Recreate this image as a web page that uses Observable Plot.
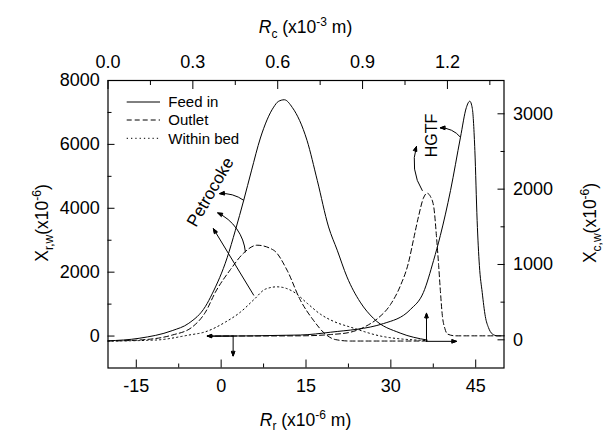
<!DOCTYPE html>
<html><head><meta charset="utf-8">
<script src="https://cdn.jsdelivr.net/npm/d3@7"></script>
<script src="https://cdn.jsdelivr.net/npm/@observablehq/plot@0.6"></script>
<style>
html,body{margin:0;padding:0;background:#fff;}
#chart{position:relative;width:607px;height:433px;font-family:"Liberation Sans",Arial,Helvetica,sans-serif;}
#chart svg{position:absolute;left:0;top:0;}
</style></head><body><div id="chart"></div>
<script>
// ---------- axes ----------
const rrDomain = [-20, 50];            // R_r (x10^-6 m), bottom
const rrTicks = [-15, 0, 15, 30, 45];
const rrMinor = [-7.5, 7.5, 22.5, 37.5];
const xrwDomain = [-1000, 8000];       // X_r,w, left
const xrwTicks = [0, 2000, 4000, 6000, 8000];
const xrwMinor = [1000, 3000, 5000, 7000];
const rcDomain = [0, 1.4];             // R_c (x10^-3 m), top
const rcTicks = [0, 0.3, 0.6, 0.9, 1.2];
const rcMinor = [0.15, 0.45, 0.75, 1.05, 1.35];
const xcwDomain = [-374, 3442];        // X_c,w, right
const xcwTicks = [0, 1000, 2000, 3000];
const xcwMinor = [500, 1500, 2500];

const seriesNames = ["Feed in", "Outlet", "Within bed"];

// ---------- Petrocoke (bottom / left axes) ----------
const petroFeedX = [-20, -14.5, -8.65, -5.72, -2.77, -1.59, 1.06, 2.52, 3.99, 5.35, 6.94, 9.28, 10.11, 11.17, 12.58, 15.18, 16.99, 18.99, 20.52, 22.24, 24.58, 26.93, 31.64, 36.41];
const petroFeedY = [-150, -70, 170, 400, 930, 1320, 2450, 3313, 4250, 5170, 6200, 7166, 7344, 7397, 7156, 6125, 4875, 3416, 2688, 1853, 1063, 553, 94, -125];
const petroOutX = [-20, -14.54, -8.65, -5.12, -2.77, -1.01, 1.64, 3.99, 6.35, 9.28, 11.65, 14.0, 16.29, 18.41, 20.17, 22.82, 36.41];
const petroOutY = [-156, -125, 31, 281, 750, 1375, 2080, 2600, 2844, 2688, 2063, 1125, 500, 63, -109, -156, -156];
const petroBedX = [-20, -11.59, -5.72, -2.77, 0.76, 3.41, 5.88, 7.82, 9.88, 12.81, 15.18, 17.52, 20.17, 22.82, 28.64, 36.41];
const petroBedY = [-156, -125, 31, 134, 438, 750, 1156, 1469, 1541, 1384, 1031, 688, 438, 281, -16, -141];

// ---------- HGTF (top / right axes) ----------
const hgtfFeedX = [0.352, 0.680, 0.787, 0.974, 1.069, 1.115, 1.151, 1.175, 1.211, 1.246, 1.267, 1.279, 1.288, 1.297, 1.305, 1.313, 1.323, 1.334, 1.345, 1.358, 1.377, 1.40];
const hgtfFeedY = [48, 64, 101, 216, 402, 628, 1053, 1385, 1983, 2686, 3084, 3167, 3071, 2513, 1584, 986, 628, 309, 163, 80, 53, 53];
const hgtfOutX = [0.352, 0.680, 0.787, 0.857, 0.910, 0.952, 0.999, 1.034, 1.062, 1.080, 1.098, 1.115, 1.128, 1.140, 1.152, 1.161, 1.169, 1.175, 1.182, 1.191, 1.200, 1.228, 1.40];
const hgtfOutY = [50, 53, 70, 101, 177, 279, 470, 720, 1020, 1330, 1640, 1880, 1946, 1902, 1756, 1385, 986, 654, 323, 150, 77, 53, 53];

// ---------- annotations (data units) ----------
const petroLabel = {x: -1.9, y: 4509, text: "Petrocoke"};
const petroArrows = [
  {x1: 3.99, y1: 4250, x2: -0.25, y2: 4459, bend: -20},
  {x1: 4.29, y1: 2634, x2: -0.60, y2: 3853, bend: -30},
  {x1: 5.75, y1: 1281, x2: -1.36, y2: 3359, bend: 0},
  {x1: 2.12, y1: 0, x2: -2.47, y2: 0, bend: 0},
  {x1: 2.12, y1: 0, x2: 2.12, y2: -625, bend: 0}
];
const hgtfLabel = {x: 1.146, y: 2712, text: "HGTF"};
const hgtfArrows = [
  {x1: 1.246, y1: 2690, x2: 1.175, y2: 2814, bend: -25},
  {x1: 1.111, y1: 1982, x2: 1.0905, y2: 2566, bend: 25},
  {x1: 1.126, y1: -20, x2: 1.126, y2: 353, bend: 0},
  {x1: 1.126, y1: -20, x2: 1.232, y2: -20, bend: 0}
];

const rows = (xs, ys) => xs.map((x, i) => ({x, y: ys[i]}));

const FONT = '"Liberation Sans", Arial, Helvetica, sans-serif';
const W = 607, H = 433;
const common = {
  width: W, height: H,
  marginLeft: 107.5, marginRight: 103.5, marginTop: 80, marginBottom: 65.5,
  style: {fontFamily: FONT, fontSize: "18px", color: "#000", background: "transparent", overflow: "visible"}
};
const dash = {"Feed in": null, "Outlet": "5,3", "Within bed": "1.3,3"};
const lineOpts = (name) => ({x: "x", y: "y", curve: "monotone-x", stroke: "#000", strokeWidth: 1, strokeDasharray: dash[name]});
const arrowMarks = (list) => list.map(a => Plot.arrow([a], {
  x1: "x1", y1: "y1", x2: "x2", y2: "y2", bend: a.bend,
  stroke: "#000", strokeWidth: 1, headLength: 7, headAngle: 40
}));

const p1 = Plot.plot({
  ...common,
  x: {domain: rrDomain}, y: {domain: xrwDomain},
  marks: [
    Plot.axisX({ticks: rrTicks, tickSize: -8, tickPadding: 19.5, tickFormat: d => String(d), label: null}),
    Plot.axisX({ticks: rrMinor, tickSize: -4, tickFormat: () => "", label: null}),
    Plot.axisY({ticks: xrwTicks, tickSize: -7, tickPadding: 15.3, tickFormat: d => String(d), label: null}),
    Plot.axisY({ticks: xrwMinor, tickSize: -4, tickFormat: () => "", label: null}),
    Plot.line(rows(petroFeedX, petroFeedY), lineOpts(seriesNames[0])),
    Plot.line(rows(petroOutX, petroOutY), lineOpts(seriesNames[1])),
    Plot.line(rows(petroBedX, petroBedY), lineOpts(seriesNames[2])),
    ...arrowMarks(petroArrows),
    Plot.text([petroLabel], {x: "x", y: "y", text: "text", rotate: -60, fontSize: 17, fill: "#000"}),
    Plot.frame({stroke: "#000", strokeWidth: 1.2})
  ]
});

const p2 = Plot.plot({
  ...common,
  x: {domain: rcDomain}, y: {domain: xcwDomain},
  marks: [
    Plot.axisX({anchor: "top", ticks: rcTicks, tickSize: -8, tickPadding: 21, tickFormat: d3.format(".1f"), label: null}),
    Plot.axisX({anchor: "top", ticks: rcMinor, tickSize: -4, tickFormat: () => "", label: null}),
    Plot.axisY({anchor: "right", ticks: xcwTicks, tickSize: -7, tickPadding: 16, tickFormat: d => String(d), label: null}),
    Plot.axisY({anchor: "right", ticks: xcwMinor, tickSize: -4, tickFormat: () => "", label: null}),
    Plot.line(rows(hgtfFeedX, hgtfFeedY), lineOpts(seriesNames[0])),
    Plot.line(rows(hgtfOutX, hgtfOutY), lineOpts(seriesNames[1])),
    ...arrowMarks(hgtfArrows),
    Plot.text([hgtfLabel], {x: "x", y: "y", text: "text", rotate: -90, fontSize: 16, fill: "#000"})
  ]
});

function fillHeads(svg) {
  svg.querySelectorAll('g[aria-label="arrow"] path').forEach(p => {
    const d = p.getAttribute("d");
    const k = d.lastIndexOf("M");
    if (k > 0) {
      const np = document.createElementNS("http://www.w3.org/2000/svg", "path");
      np.setAttribute("d", d.slice(k) + "Z");
      np.setAttribute("fill", "#000");
      np.setAttribute("stroke", "#000");
      np.setAttribute("stroke-width", "1");
      p.parentNode.appendChild(np);
    }
  });
}
fillHeads(p1); fillHeads(p2);

const chart = document.getElementById("chart");
chart.appendChild(p1);
chart.appendChild(p2);

// ---------- titles and legend overlay ----------
const ov = d3.select(chart).append("svg").attr("width", W).attr("height", H)
  .style("font-family", FONT).style("overflow", "visible");

function richText(g, parts, size) {
  const t = g.append("text").attr("font-size", size).attr("fill", "#000").attr("text-anchor", "middle");
  parts.forEach(([s, kind]) => {
    const sp = t.append("tspan").text(s);
    if (kind === "i") sp.attr("font-style", "italic");
    if (kind === "sub") sp.attr("font-size", 12).attr("dy", 4.5);
    if (kind === "subend") sp.attr("dy", -4.5);
    if (kind === "sup") sp.attr("font-size", 12).attr("dy", -7);
    if (kind === "supend") sp.attr("dy", 7);
  });
  return t;
}
const cx = (107.5 + 503.5) / 2;
richText(ov.append("g").attr("transform", `translate(${cx},33)`),
  [["R", "i"], ["c", "sub"], [" (x10", "subend"], ["-3", "sup"], [" m)", "supend"]], 17.5);
richText(ov.append("g").attr("transform", `translate(${cx},425.5)`),
  [["R", "i"], ["r", "sub"], [" (x10", "subend"], ["-6", "sup"], [" m)", "supend"]], 17.5);
richText(ov.append("g").attr("transform", `translate(48,223) rotate(-90)`),
  [["X", ""], ["r,w", "sub"], ["(x10", "subend"], ["-6", "sup"], [")", "supend"]], 17.5);
richText(ov.append("g").attr("transform", `translate(596,223) rotate(-90)`),
  [["X", ""], ["c,w", "sub"], ["(x10", "subend"], ["-6", "sup"], [")", "supend"]], 17.5);

const leg = ov.append("g");
const legY = [102, 120, 138.3];
seriesNames.forEach((name, i) => {
  leg.append("line").attr("x1", 126.7).attr("x2", 160).attr("y1", legY[i]).attr("y2", legY[i])
    .attr("stroke", "#000").attr("stroke-width", 1).attr("stroke-dasharray", dash[name]);
  leg.append("text").attr("x", 168.3).attr("y", legY[i] + 5.3).attr("font-size", 15).attr("fill", "#000").text(name);
});
</script>
</body></html>
